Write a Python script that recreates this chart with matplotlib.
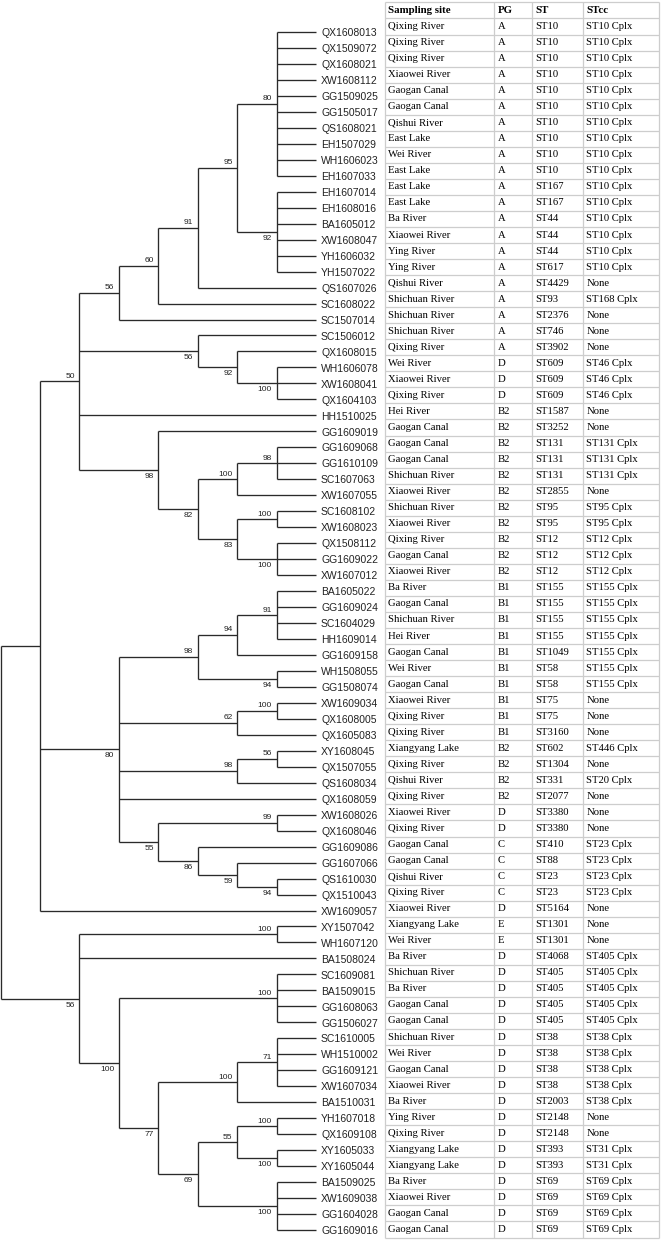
import matplotlib
matplotlib.use("Agg")
import matplotlib.pyplot as plt


# ======================================
# Step 1: isolates and table columns (top to bottom)
# ======================================
isolates = [
    "QX1608013", "QX1509072", "QX1608021", "XW1608112", "GG1509025", "GG1505017",
    "QS1608021", "EH1507029", "WH1606023", "EH1607033", "EH1607014", "EH1608016",
    "BA1605012", "XW1608047", "YH1606032", "YH1507022", "QS1607026", "SC1608022",
    "SC1507014", "SC1506012", "QX1608015", "WH1606078", "XW1608041", "QX1604103",
    "HH1510025", "GG1609019", "GG1609068", "GG1610109", "SC1607063", "XW1607055",
    "SC1608102", "XW1608023", "QX1508112", "GG1609022", "XW1607012", "BA1605022",
    "GG1609024", "SC1604029", "HH1609014", "GG1609158", "WH1508055", "GG1508074",
    "XW1609034", "QX1608005", "QX1605083", "XY1608045", "QX1507055", "QS1608034",
    "QX1608059", "XW1608026", "QX1608046", "GG1609086", "GG1607066", "QS1610030",
    "QX1510043", "XW1609057", "XY1507042", "WH1607120", "BA1508024", "SC1609081",
    "BA1509015", "GG1608063", "GG1506027", "SC1610005", "WH1510002", "GG1609121",
    "XW1607034", "BA1510031", "YH1607018", "QX1609108", "XY1605033", "XY1605044",
    "BA1509025", "XW1609038", "GG1604028", "GG1609016",
]

sites = [
    "Qixing River", "Qixing River", "Qixing River", "Xiaowei River", "Gaogan Canal",
    "Gaogan Canal", "Qishui River", "East Lake", "Wei River", "East Lake", "East Lake",
    "East Lake", "Ba River", "Xiaowei River", "Ying River", "Ying River", "Qishui River",
    "Shichuan River", "Shichuan River", "Shichuan River", "Qixing River", "Wei River",
    "Xiaowei River", "Qixing River", "Hei River", "Gaogan Canal", "Gaogan Canal",
    "Gaogan Canal", "Shichuan River", "Xiaowei River", "Shichuan River", "Xiaowei River",
    "Qixing River", "Gaogan Canal", "Xiaowei River", "Ba River", "Gaogan Canal",
    "Shichuan River", "Hei River", "Gaogan Canal", "Wei River", "Gaogan Canal",
    "Xiaowei River", "Qixing River", "Qixing River", "Xiangyang Lake", "Qixing River",
    "Qishui River", "Qixing River", "Xiaowei River", "Qixing River", "Gaogan Canal",
    "Gaogan Canal", "Qishui River", "Qixing River", "Xiaowei River", "Xiangyang Lake",
    "Wei River", "Ba River", "Shichuan River", "Ba River", "Gaogan Canal", "Gaogan Canal",
    "Shichuan River", "Wei River", "Gaogan Canal", "Xiaowei River", "Ba River",
    "Ying River", "Qixing River", "Xiangyang Lake", "Xiangyang Lake", "Ba River",
    "Xiaowei River", "Gaogan Canal", "Gaogan Canal",
]

pg = (["A"] * 21 + ["D"] * 3 + ["B2"] * 11 + ["B1"] * 10 + ["B2"] * 4 + ["D"] * 2
      + ["C"] * 4 + ["D"] + ["E"] * 2 + ["D"] * 18)

st = [
    "ST10", "ST10", "ST10", "ST10", "ST10", "ST10", "ST10", "ST10", "ST10", "ST10",
    "ST167", "ST167", "ST44", "ST44", "ST44", "ST617", "ST4429", "ST93", "ST2376",
    "ST746", "ST3902", "ST609", "ST609", "ST609", "ST1587", "ST3252", "ST131", "ST131",
    "ST131", "ST2855", "ST95", "ST95", "ST12", "ST12", "ST12", "ST155", "ST155", "ST155",
    "ST155", "ST1049", "ST58", "ST58", "ST75", "ST75", "ST3160", "ST602", "ST1304",
    "ST331", "ST2077", "ST3380", "ST3380", "ST410", "ST88", "ST23", "ST23", "ST5164",
    "ST1301", "ST1301", "ST4068", "ST405", "ST405", "ST405", "ST405", "ST38", "ST38",
    "ST38", "ST38", "ST2003", "ST2148", "ST2148", "ST393", "ST393", "ST69", "ST69",
    "ST69", "ST69",
]

stcc = (["ST10 Cplx"] * 16 + ["None", "ST168 Cplx", "None", "None", "None"]
        + ["ST46 Cplx"] * 3 + ["None", "None"] + ["ST131 Cplx"] * 3 + ["None"]
        + ["ST95 Cplx"] * 2 + ["ST12 Cplx"] * 3 + ["ST155 Cplx"] * 7 + ["None"] * 3
        + ["ST446 Cplx", "None", "ST20 Cplx", "None", "None", "None"]
        + ["ST23 Cplx"] * 4 + ["None", "None", "None"] + ["ST405 Cplx"] * 5
        + ["ST38 Cplx"] * 5 + ["None", "None"] + ["ST31 Cplx"] * 2 + ["ST69 Cplx"] * 4)

header = ["Sampling site", "PG", "ST", "STcc"]

# tree: (bootstrap, side of the label, children); an int is a row above
tree = (None, "a", [
    (None, "a", [
        ("50", "a", [
            ("56", "a", [
                ("60", "a", [
                    ("91", "a", [
                        ("95", "a", [
                            ("80", "a", list(range(0, 10))),
                            ("92", "b", list(range(10, 16))),
                        ]),
                        16]),
                    17]),
                18]),
            ("56", "b", [19, ("92", "b", [20, ("100", "b", [21, 22, 23])])]),
            24,
            ("98", "b", [25, ("82", "b", [
                ("100", "a", [("98", "a", [26, 27, 28]), 29]),
                ("83", "b", [("100", "a", [30, 31]), ("100", "b", [32, 33, 34])]),
            ])]),
        ]),
        ("80", "b", [
            ("98", "a", [("94", "a", [("91", "a", [35, 36, 37, 38]), 39]),
                         ("94", "b", [40, 41])]),
            ("62", "a", [("100", "a", [42, 43]), 44]),
            ("98", "a", [("56", "a", [45, 46]), 47]),
            48,
            ("55", "b", [("99", "a", [49, 50]),
                         ("86", "b", [51, ("59", "b", [52, ("94", "b", [53, 54])])])]),
        ]),
        55,
    ]),
    ("56", "b", [
        ("100", "a", [56, 57]),
        58,
        ("100", "b", [
            ("100", "a", [59, 60, 61, 62]),
            ("77", "b", [
                ("100", "a", [("71", "a", [63, 64, 65, 66]), 67]),
                ("69", "b", [
                    ("55", "a", [("100", "a", [68, 69]), ("100", "b", [70, 71])]),
                    ("100", "b", [72, 73, 74, 75]),
                ]),
            ]),
        ]),
    ]),
])


# ======================================
# Step 2: cladogram layout (all tips aligned on the right)
# ======================================
def height(node):
    if isinstance(node, int):
        return 0
    return 1 + max(height(c) for c in node[2])


depth = height(tree)
segments = []
supports = []


def place(node):
    if isinstance(node, int):
        return depth, node
    x = depth - height(node)
    pts = [place(c) for c in node[2]]
    ys = [p[1] for p in pts]
    for cx, cy in pts:
        segments.append(([x, cx], [cy, cy]))
    segments.append(([x, x], [min(ys), max(ys)]))
    y = (ys[0] + ys[-1]) / 2
    if node[0]:
        supports.append((x, y, node[0], node[1]))
    return x, y


place(tree)


# ======================================
# Step 3: plot tree
# ======================================
W, H = 661, 1240
fig = plt.figure(figsize=(W / 100, H / 100), dpi=100)

step_x, x0 = 39.44, 0.5
step_y, y0 = 15.973, 32.0
ax = fig.add_axes([0, 0, 1, 1])
ax.set_xlim((0 - x0) / step_x, (W - x0) / step_x)
ax.set_ylim((H - y0) / step_y, -y0 / step_y)
ax.axis("off")

for xs, ys in segments:
    ax.plot(xs, ys, color="#2a2a2a", lw=0.95, solid_capstyle="butt")

for x, y, txt, side in supports:
    dy = 5 if side == "a" else -6.5
    ax.annotate(txt, (x, y), xytext=(-4.5, dy), textcoords="offset pixels",
                ha="right", va="center", fontsize=6, family="Liberation Sans",
                color="#222222")

for i, name in enumerate(isolates):
    ax.annotate(name, (depth, i), xytext=(5, -1.2), textcoords="offset pixels",
                ha="left", va="center", fontsize=7.5, family="Liberation Sans",
                color="#222222")


# ======================================
# Step 4: table on the right
# ======================================
edges = [385, 494, 531.7, 582.7, 659.3]
row_y0, row_step = 26.5, 16.04
tab = fig.add_axes([0, 0, 1, 1])
tab.set_xlim(0, W)
tab.set_ylim((H - row_y0) / row_step, -row_y0 / row_step)
tab.axis("off")

n = len(sites)
tab.hlines([r + 0.5 for r in range(-2, n)], edges[0], edges[-1],
           color="#cdcdcd", lw=0.9)
tab.vlines(edges, -1.5, n - 0.5, color="#cdcdcd", lw=0.9)

for j, h in enumerate(header):
    tab.text(edges[j] + 3.5, -1, h, ha="left", va="center", fontsize=7.8,
             family="Liberation Serif", fontweight="bold", color="black")

for i in range(n):
    for j, col in enumerate([sites, pg, st, stcc]):
        tab.text(edges[j] + 3.5, i, col[i], ha="left", va="center", fontsize=7.7,
                 family="Liberation Serif", color="black")

fig.savefig("out.png", dpi=100)
